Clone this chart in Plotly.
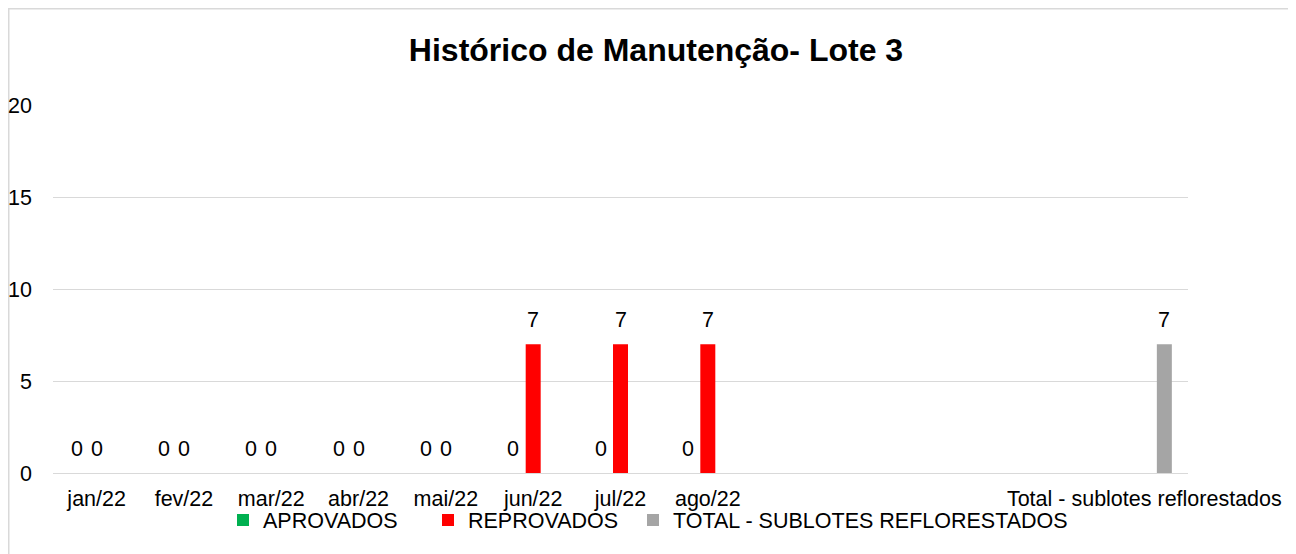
import plotly.graph_objects as go

categories = ["jan/22", "fev/22", "mar/22", "abr/22", "mai/22", "jun/22", "jul/22", "ago/22",
              " ", "  ", "   ", "    ", "Total - sublotes reflorestados"]
aprovados = [0, 0, 0, 0, 0, 0, 0, 0, None, None, None, None, None]
reprovados = [0, 0, 0, 0, 0, 7, 7, 7, None, None, None, None, None]
total_sublotes = [None, None, None, None, None, None, None, None, None, None, None, None, 7]
series_names = ["APROVADOS", "REPROVADOS", "TOTAL - SUBLOTES REFLORESTADOS"]
series_colors = ["#00B050", "#FF0000", "#A5A5A5"]
title_text = "Histórico de Manutenção- Lote 3"

FONT = "Liberation Sans, Arial, sans-serif"
FS = 21.5

fig = go.Figure()
all_series = [aprovados, reprovados, total_sublotes]
shifts = [-20, 0, 20]
legend_widths = [160, 160, 420]
for name, vals, col, lw in zip(series_names, all_series, series_colors, legend_widths):
    fig.add_trace(go.Bar(x=categories, y=vals, name=name, marker_color=col,
                         marker_line_width=0, hoverinfo="x+y+name", legendwidth=lw))

annotations = []
for vals, sh in zip(all_series, shifts):
    for c, v in zip(categories, vals):
        if v is None:
            continue
        annotations.append(dict(x=c, y=v, xref="x", yref="y", text=str(v), showarrow=False,
                                xshift=sh, yshift=24, yanchor="middle", xanchor="center",
                                font=dict(family=FONT, size=FS, color="#000000")))

W, H = 1296, 554
L, R, T, B = 45, 116, 97, 89
pw = W - L - R
ph = H - T - B

fig.update_layout(
    width=W, height=H,
    margin=dict(l=L, r=R, t=T, b=B, autoexpand=False),
    paper_bgcolor="white", plot_bgcolor="white",
    barmode="group", bargap=0.313, bargroupgap=0.25,
    font=dict(family=FONT, size=FS, color="#000000"),
    title=dict(text="<b>" + title_text + "</b>", x=0.5, xanchor="center",
               y=1 - 42 / H, yanchor="middle", yref="container",
               font=dict(family=FONT, size=32, color="#000000")),
    xaxis=dict(type="category", showgrid=False, zeroline=False, showline=False,
               ticks="", tickangle=0, automargin=False,
               tickfont=dict(family=FONT, size=FS, color="#000000"),
               ticklabelstandoff=10),
    yaxis=dict(range=[0, 20], tickvals=[0, 5, 10, 15, 20], showgrid=True,
               gridcolor="#D9D9D9", gridwidth=1, zeroline=True, zerolinecolor="#D9D9D9",
               zerolinewidth=1, showline=False, ticks="", automargin=False,
               tickfont=dict(family=FONT, size=FS, color="#000000"),
               ticklabelstandoff=20),
    legend=dict(orientation="h", x=(215 - L) / pw, xanchor="left",
                y=(H - B - 512) / ph, yanchor="middle",
                entrywidthmode="pixels",
                font=dict(family=FONT, size=FS, color="#000000"),
                bgcolor="rgba(0,0,0,0)"),
    annotations=annotations,
    shapes=[dict(type="rect", xref="paper", yref="paper",
                 x0=(0.75 - L) / pw, x1=(1283 - L) / pw,
                 y0=(H - B - 620) / ph, y1=(H - B - 0.75) / ph,
                 line=dict(color="#D9D9D9", width=1.5), fillcolor="rgba(0,0,0,0)",
                 layer="below")],
)

fig.write_html("out.html")
